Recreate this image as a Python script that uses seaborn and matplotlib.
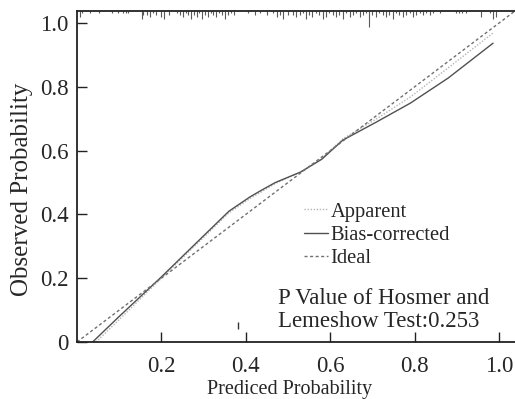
import numpy as np
import pandas as pd
import matplotlib
matplotlib.use("Agg")
import matplotlib.pyplot as plt
import seaborn as sns

# Calibration curves (predicted vs observed probability)
pred_bias = [0.037, 0.10, 0.20, 0.29, 0.36, 0.41, 0.44, 0.47, 0.53, 0.58, 0.63, 0.71, 0.79, 0.88, 0.986]
obs_bias = [0.0, 0.08, 0.204, 0.32, 0.41, 0.455, 0.478, 0.50, 0.533, 0.573, 0.633, 0.69, 0.749, 0.828, 0.937]

pred_app = [0.045, 0.10, 0.20, 0.29, 0.36, 0.41, 0.44, 0.47, 0.53, 0.58, 0.63, 0.71, 0.79, 0.88, 0.986]
obs_app = [0.0, 0.07, 0.20, 0.315, 0.405, 0.45, 0.473, 0.497, 0.533, 0.575, 0.637, 0.70, 0.768, 0.86, 0.969]

ideal = [0.0, 1.04]

# Distribution of predicted probabilities (rug along the top)
rug_x = [0.006, 0.013, 0.032, 0.053,
         0.084, 0.096, 0.108, 0.115, 0.122,
         0.153, 0.157, 0.167, 0.174, 0.181, 0.188, 0.198, 0.207, 0.217,
         0.238, 0.245, 0.252, 0.258, 0.264, 0.27, 0.277, 0.284, 0.29, 0.296, 0.303,
         0.31, 0.317, 0.323, 0.33, 0.337, 0.344, 0.351, 0.358, 0.365, 0.372,
         0.406, 0.423, 0.434, 0.451, 0.465, 0.475, 0.482, 0.489, 0.5,
         0.512, 0.52, 0.528, 0.535, 0.543, 0.551, 0.558, 0.566, 0.574, 0.582, 0.59,
         0.598, 0.606, 0.614, 0.622, 0.63, 0.638, 0.646, 0.654, 0.662, 0.67, 0.678,
         0.685, 0.692, 0.70, 0.708, 0.716, 0.724, 0.732, 0.74, 0.748, 0.756, 0.764,
         0.772, 0.78, 0.788, 0.796, 0.804, 0.812, 0.82, 0.828, 0.836, 0.844,
         0.86, 0.898, 0.905, 0.913, 0.922, 0.957, 0.979, 0.986, 0.993]
rug_n = [3, 1, 1, 1,
         1, 1, 1, 1, 1,
         4, 2, 2, 3, 1, 2, 3, 4, 2,
         1, 2, 3, 1, 2, 4, 2, 3, 1, 4, 2, 3, 1, 2, 3, 1, 2, 4, 2, 1, 2,
         1, 2, 1, 2, 1, 3, 2, 4, 2,
         2, 3, 2, 1, 4, 2, 3, 1, 2, 4, 3, 1, 2, 3, 2, 4, 1, 3, 2, 1, 3, 2, 1, 8,
         2, 3, 1, 2, 3, 2, 4, 1, 2, 3, 2, 1, 3, 2, 1, 2, 1, 2, 1,
         1, 1, 1, 1, 1, 3, 1, 4, 3]

x_ticks = [0.2, 0.4, 0.6, 0.8, 1.0]
x_labels = ["0.2", "0.4", "0.6", "0.8", "1.0"]
y_ticks = [0.0, 0.2, 0.4, 0.6, 0.8, 1.0]
y_labels = ["0", "0.2", "0.4", "0.6", "0.8", "1.0"]

hl_text = "P Value of Hosmer and\nLemeshow Test:0.253"

sns.set_style("ticks")
plt.rcParams["font.family"] = ["Liberation Serif", "DejaVu Serif"]

fig = plt.figure(figsize=(5.15, 3.99), dpi=100)
ax = fig.add_axes([0.1495, 0.1429, 0.8505, 0.8296])

XMAX, YMAX = 1.038, 1.038
ax.set_xlim(0, XMAX)
ax.set_ylim(0, YMAX)

df_app = pd.DataFrame({"x": pred_app, "y": obs_app})
df_bias = pd.DataFrame({"x": pred_bias, "y": obs_bias})
df_ideal = pd.DataFrame({"x": ideal, "y": ideal})

sns.lineplot(data=df_app, x="x", y="y", ax=ax, color="#b5b5b5", lw=1.0,
             linestyle=(0, (1, 1.2)), label="Apparent", sort=False)
sns.lineplot(data=df_bias, x="x", y="y", ax=ax, color="#505050", lw=1.0,
             label="Bias-corrected", sort=False)
sns.lineplot(data=df_ideal, x="x", y="y", ax=ax, color="#707070", lw=1.0,
             linestyle=(0, (2.2, 1.8)), label="Ideal", sort=False)

# rug hanging from the top edge
rug_unit = 0.0062
ax.vlines(rug_x, YMAX - np.array(rug_n) * rug_unit, YMAX, color="#5a5a5a", lw=0.8)

# small marker near the bottom
ax.vlines([0.382], [0.04], [0.063], color="#333333", lw=1.0)

ax.set_xticks(x_ticks)
ax.set_xticklabels(x_labels)
ax.set_yticks(y_ticks)
ax.set_yticklabels(y_labels)
ax.tick_params(axis="both", direction="in", length=7, width=1.0, color="#222222",
               labelsize=16.5)
ax.tick_params(axis="x", pad=10)
ax.tick_params(axis="y", pad=6)

for side in ["left", "bottom", "top"]:
    ax.spines[side].set_linewidth(1.3)
    ax.spines[side].set_color("#222222")
ax.spines["right"].set_visible(False)

ax.set_xlabel("Prediced Probability", fontsize=14.5)
ax.set_ylabel("Observed Probability", fontsize=18)
ax.xaxis.set_label_coords(0.486, -0.115)
ax.yaxis.set_label_coords(-0.10, 0.462)

leg = ax.legend(loc="upper left", bbox_to_anchor=(0.5, 0.447), frameon=False,
                fontsize=14.8, handlelength=1.15, handletextpad=0.12,
                labelspacing=0.18, borderaxespad=0)

ax.text(0.458, 0.097, hl_text, transform=ax.transAxes, fontsize=16.5,
        ha="left", va="center", linespacing=1.12)

fig.savefig("out.png", dpi=100)
